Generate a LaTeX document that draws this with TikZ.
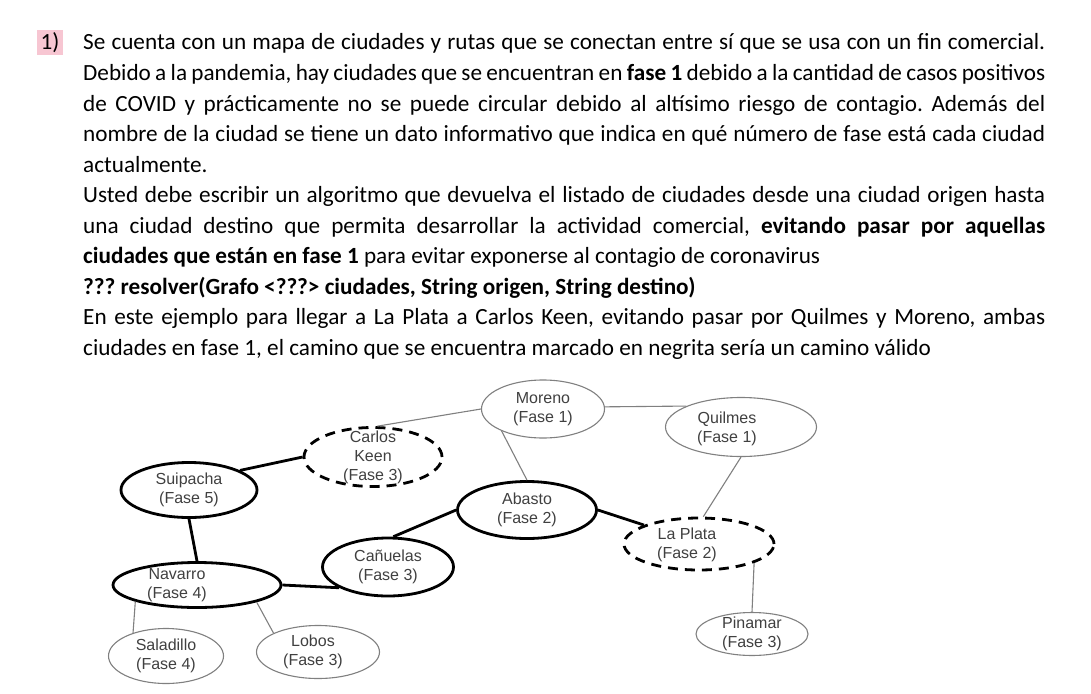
\documentclass[tikz,border=0pt]{standalone}
\usepackage{fontspec}
\setmainfont{Carlito}
\newfontfamily\arial{Liberation Sans}
\usetikzlibrary{shapes.geometric}

\definecolor{marca}{HTML}{F7C6D2}
\definecolor{gris}{HTML}{808080}
\definecolor{letra}{HTML}{404040}
\newcommand{\citysize}{\arial\fontsize{16}{19}\selectfont}

\begin{document}
\begin{tikzpicture}[x=1pt,y=-1pt]
    \tikzstyle{city} = [ellipse, draw=gris, line width=1.1pt, inner xsep=0pt, inner ysep=-8pt, text=letra, font=\citysize, align=center]
    \tikzstyle{path city} = [city, draw=black, line width=2.8pt]
    \tikzstyle{phase city} = [path city, dash pattern=on 10pt off 7pt]
    \tikzstyle{city text} = [text=letra, font=\citysize, align=center, inner sep=0pt]
    \tikzstyle{route} = [draw=gris, line width=1.1pt]
    \tikzstyle{path route} = [draw=black, line width=2.8pt]

    \fill[white] (0,0) rectangle (1091,693);

    % enunciado
    \node[fill=marca, minimum width=26pt, minimum height=25pt, inner sep=0pt, font=\fontsize{23.2}{30.5}\selectfont] (num) at (50,42.5) {1)};
    \node[anchor=base west, inner sep=0pt, text width=962pt, align=justify, font=\fontsize{23.2}{30.5}\selectfont] (enunciado) at (83,50) {\frenchspacing\hyphenpenalty=10000 \exhyphenpenalty=10000 \tolerance=10000
        Se cuenta con un mapa de ciudades y rutas que se conectan entre sí que se usa con un fin comercial.\linebreak
        Debido a la pandemia, hay ciudades que se encuentran en \textbf{fase 1} debido a la cantidad de casos positivos\linebreak
        de COVID y prácticamente no se puede circular debido al altísimo riesgo de contagio. Además del\linebreak
        nombre de la ciudad se tiene un dato informativo que indica en qué número de fase está cada ciudad\linebreak
        actualmente.\par
        Usted debe escribir un algoritmo que devuelva el listado de ciudades desde una ciudad origen hasta\linebreak
        una ciudad destino que permita desarrollar la actividad comercial, \textbf{evitando pasar por aquellas}\linebreak
        \textbf{ciudades que están en fase 1} para evitar exponerse al contagio de coronavirus\par
        \textbf{??? resolver(Grafo <???> ciudades, String origen, String destino)}\par
        En este ejemplo para llegar a La Plata a Carlos Keen, evitando pasar por Quilmes y Moreno, ambas\linebreak
        ciudades en fase 1, el camino que se encuentra marcado en negrita sería un camino válido\par};

    % ciudades
    \node[city, minimum width=123pt, minimum height=58pt] (moreno) at (543,409) {Moreno\\(Fase 1)};
    \node[city, minimum width=151pt, minimum height=59pt] (quilmes) at (741,427) {};
    \node[city text] (quilmes text) at (727,429) {Quilmes\\(Fase 1)};
    \node[phase city, minimum width=138pt, minimum height=59pt] (keen) at (373,457) {Carlos\\Keen\\(Fase 3)};
    \node[path city, minimum width=136pt, minimum height=55pt] (suipacha) at (189,490) {Suipacha\\(Fase 5)};
    \node[path city, minimum width=139pt, minimum height=57pt] (abasto) at (527,510) {Abasto\\(Fase 2)};
    \node[phase city, minimum width=150pt, minimum height=52pt] (laplata) at (699,544) {};
    \node[city text] (laplata text) at (687,545) {La Plata\\(Fase 2)};
    \node[path city, minimum width=131pt, minimum height=58pt] (canuelas) at (388,567) {Cañuelas\\(Fase 3)};
    \node[path city, minimum width=168pt, minimum height=45pt] (navarro) at (197,585) {};
    \node[city text] (navarro text) at (177,585) {Navarro\\(Fase 4)};
    \node[city, minimum width=115pt, minimum height=55pt] (saladillo) at (166,656) {Saladillo\\(Fase 4)};
    \node[city, minimum width=123pt, minimum height=53pt] (lobos) at (318,652) {};
    \node[city text] (lobos text) at (313,652) {Lobos\\(Fase 3)};
    \node[city, minimum width=112pt, minimum height=43pt] (pinamar) at (752,634) {Pinamar\\(Fase 3)};

    % rutas
    \draw[route] (keen.82) -- (moreno.180);
    \draw[route] (moreno.208) -- (abasto.north);
    \draw[route] (moreno.2) -- (quilmes.159);
    \draw[route] (quilmes.south) -- (laplata.81);
    \draw[route] (laplata.-19) -- (pinamar.north);
    \draw[route] (navarro.195) -- (saladillo.145);
    \draw[route] (navarro.-16) -- (lobos.157);

    % camino valido
    \draw[path route] (suipacha.21) -- (keen.west);
    \draw[path route] (suipacha.south) -- (navarro.north);
    \draw[path route] (navarro.east) -- (canuelas.203);
    \draw[path route] (canuelas.80) -- (abasto.west);
    \draw[path route] (abasto.east) -- (laplata.161);
\end{tikzpicture}
\end{document}
